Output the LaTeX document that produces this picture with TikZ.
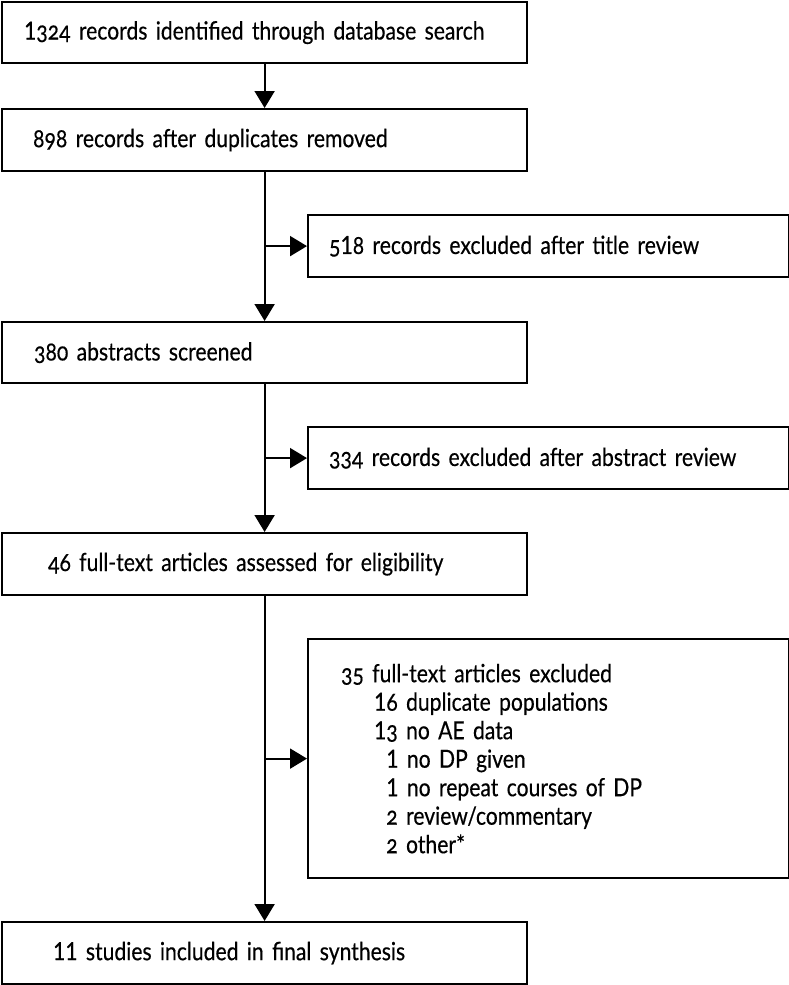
\documentclass[tikz,border=0pt]{standalone}
\usepackage{fontspec}
\setmainfont{Lato}[Numbers=OldStyle, FakeStretch=0.845, FakeBold=0.4, WordSpace=0.8]
\newcommand{\lo}{{\addfontfeatures{Numbers=Lining}1}}
\usetikzlibrary{arrows.meta}
\begin{document}
\begin{tikzpicture}[x=1pt,y=-1pt,
  box/.style={draw=black, line width=2.2pt, rectangle, anchor=north west,
    inner ysep=0pt, align=left, font=\fontsize{25}{28.5}\selectfont},
  arr/.style={line width=2pt, -{Triangle[width=20pt,length=17pt]}}]
\useasboundingbox (0,0) rectangle (789,985);
\fill[white] (0,0) rectangle (789,985);
\node[box, minimum height=61pt, inner xsep=22pt, text width=481pt] (b1) at (1,1)
  {\lo324 records identified through database search};
\node[box, minimum height=62pt, inner xsep=31pt, text width=463pt] (b2) at (1,108)
  {898 records after duplicates removed};
\node[box, minimum height=62pt, inner xsep=21pt, text width=439pt] (e1) at (307,214)
  {5\lo8 records excluded after title review};
\node[box, minimum height=61pt, inner xsep=32pt, text width=461pt] (b3) at (1,321)
  {380 abstracts screened};
\node[box, minimum height=62pt, inner xsep=21pt, text width=439pt] (e2) at (307,426)
  {334 records excluded after abstract review};
\node[box, minimum height=62pt, inner xsep=46pt, text width=433pt] (b4) at (1,532)
  {46 full-text articles assessed for eligibility};
\node[box, minimum height=239pt, inner xsep=33pt, text width=415pt] (e3) at (307,638)
  {35 full-text articles excluded\\
   \hspace*{33pt}\lo6 duplicate populations\\
   \hspace*{33pt}\lo3 no AE data\\
   \hspace*{33pt}\phantom{\lo}\lo{} no DP given\\
   \hspace*{33pt}\phantom{\lo}\lo{} no repeat courses of DP\\
   \hspace*{33pt}\phantom{\lo}2 review/commentary\\
   \hspace*{33pt}\phantom{\lo}2 other*};
\node[box, minimum height=62pt, inner xsep=51pt, text width=423pt] (b5) at (1,921)
  {\lo\lo{} studies included in final synthesis};
\draw[arr] (b1.south) -- (b2.north);
\draw[arr] (b2.south) -- (b3.north);
\draw[arr] (b3.south) -- (b4.north);
\draw[arr] (b4.south) -- (b5.north);
\draw[arr] (b2.south |- e1.west) -- (e1.west);
\draw[arr] (b3.south |- e2.west) -- (e2.west);
\draw[arr] (b4.south |- e3.west) -- (e3.west);
\end{tikzpicture}
\end{document}
